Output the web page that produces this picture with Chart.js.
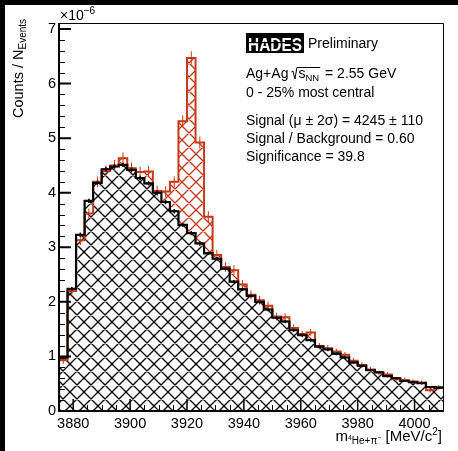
<!DOCTYPE html>
<html>
<head>
<meta charset="utf-8">
<script src="https://cdn.jsdelivr.net/npm/chart.js@4.4.1/dist/chart.umd.min.js"></script>
<style>
  html, body { margin: 0; padding: 0; background: #fff; overflow: hidden; }
</style>
</head>
<body>
<canvas id="chart" width="458" height="451"></canvas>
<script>
// histogram: 45 bins of 3 MeV starting at 3875
const binLow = 3875;
const binWidth = 3;
// background (black), x 1e-6
const background = [0.98, 2.24, 3.23, 3.85, 4.18, 4.43, 4.48, 4.51, 4.42, 4.27,
  4.17, 4.00, 3.83, 3.66, 3.41, 3.26, 3.07, 2.89, 2.79, 2.61,
  2.37, 2.23, 2.11, 2.00, 1.86, 1.71, 1.64, 1.48, 1.39, 1.30,
  1.18, 1.13, 1.05, 0.98, 0.89, 0.83, 0.75, 0.71, 0.64, 0.60,
  0.55, 0.53, 0.51, 0.44, 0.43];
const backgroundErr = [0.03, 0.03, 0.04, 0.04, 0.04, 0.04, 0.04, 0.04, 0.04, 0.04,
  0.04, 0.04, 0.04, 0.04, 0.04, 0.04, 0.04, 0.03, 0.03, 0.03,
  0.03, 0.03, 0.03, 0.03, 0.03, 0.03, 0.03, 0.03, 0.03, 0.03,
  0.03, 0.03, 0.03, 0.03, 0.02, 0.02, 0.02, 0.02, 0.02, 0.02,
  0.02, 0.02, 0.02, 0.02, 0.02];
// signal + background (red)
const total = [0.93, 2.20, 3.13, 3.62, 4.20, 4.40, 4.50, 4.63, 4.45, 4.38,
  4.39, 4.03, 4.02, 4.20, 5.31, 6.47, 4.92, 3.56, 2.86, 2.64,
  2.58, 2.32, 2.13, 2.03, 1.93, 1.73, 1.72, 1.52, 1.41, 1.44,
  1.19, 1.15, 1.09, 1.03, 0.92, 0.84, 0.76, 0.70, 0.67, 0.58,
  0.57, 0.54, 0.52, 0.38, 0.43];
const totalErr = [0.07, 0.08, 0.09, 0.09, 0.10, 0.10, 0.10, 0.11, 0.10, 0.10,
  0.10, 0.10, 0.10, 0.10, 0.11, 0.12, 0.11, 0.10, 0.09, 0.09,
  0.09, 0.08, 0.08, 0.08, 0.08, 0.07, 0.07, 0.07, 0.06, 0.06,
  0.06, 0.06, 0.05, 0.05, 0.05, 0.05, 0.05, 0.04, 0.04, 0.04,
  0.04, 0.04, 0.04, 0.04, 0.04];
const xTicks = [3880, 3900, 3920, 3940, 3960, 3980, 4000];
const yTicks = [0, 1, 2, 3, 4, 5, 6, 7];

const RED = 'rgb(196,58,26)';
const FONT = '"Liberation Sans", Arial, Helvetica, sans-serif';

// step outline points from bin contents
function stepPoints(vals) {
  const pts = [{ x: binLow, y: 0 }];
  vals.forEach((v, i) => pts.push({ x: binLow + i * binWidth, y: v }));
  pts.push({ x: binLow + vals.length * binWidth, y: vals[vals.length - 1] });
  return pts;
}

// ROOT-like cross hatch
function hatch(color, bg) {
  const s = 14;
  const c = document.createElement('canvas');
  c.width = s; c.height = s;
  const g = c.getContext('2d');
  if (bg) { g.fillStyle = bg; g.fillRect(0, 0, s, s); }
  g.strokeStyle = color;
  g.lineWidth = 1.35;
  g.beginPath();
  for (const o of [-s, 0, s]) {
    g.moveTo(o, 0); g.lineTo(o + s, s);
    g.moveTo(o + s, 0); g.lineTo(o, s);
  }
  g.stroke();
  return g.createPattern(c, 'repeat');
}

function drawErrors(chart, vals, errs, color, lw) {
  const ctx = chart.ctx, xs = chart.scales.x, ys = chart.scales.y;
  ctx.save();
  ctx.strokeStyle = color;
  ctx.lineWidth = lw;
  ctx.beginPath();
  vals.forEach((v, i) => {
    const c = binLow + (i + 0.5) * binWidth;
    const px = xs.getPixelForValue(c);
    ctx.moveTo(px, ys.getPixelForValue(v - errs[i]));
    ctx.lineTo(px, ys.getPixelForValue(v + errs[i]));
    ctx.moveTo(xs.getPixelForValue(c - 1.2), ys.getPixelForValue(v));
    ctx.lineTo(xs.getPixelForValue(c + 1.2), ys.getPixelForValue(v));
  });
  ctx.stroke();
  ctx.restore();
}

function font(size, bold) { return (bold ? 'bold ' : '') + size + 'px ' + FONT; }

const decor = {
  id: 'decor',
  afterDatasetsDraw(chart) {
    const a = chart.chartArea;
    const ctx = chart.ctx;
    ctx.save();
    ctx.beginPath();
    ctx.rect(a.left, a.top, a.right - a.left, a.bottom - a.top);
    ctx.clip();
    drawErrors(chart, total, totalErr, RED, 1);
    drawErrors(chart, background, backgroundErr, '#000', 1.5);
    ctx.restore();
  },
  afterDraw(chart) {
    const ctx = chart.ctx, a = chart.chartArea;
    const xs = chart.scales.x, ys = chart.scales.y;
    ctx.save();
    // outer black border (top/left)
    ctx.fillStyle = '#000';
    ctx.fillRect(0, 0, 458, 5);
    ctx.fillRect(0, 0, 5, 451);

    // frame
    ctx.strokeStyle = '#000';
    ctx.lineWidth = 1;
    ctx.beginPath();
    ctx.moveTo(a.left, a.top + 0.5); ctx.lineTo(a.right + 0.5, a.top + 0.5);
    ctx.lineTo(a.right + 0.5, a.bottom);
    ctx.stroke();
    ctx.lineWidth = 2;
    ctx.beginPath();
    ctx.moveTo(a.left, a.top); ctx.lineTo(a.left, a.bottom);
    ctx.lineTo(a.right + 1, a.bottom);
    ctx.stroke();

    // y ticks (inside)
    ctx.beginPath();
    ctx.lineWidth = 2;
    yTicks.forEach(v => {
      const py = ys.getPixelForValue(v);
      ctx.moveTo(a.left, py); ctx.lineTo(a.left + 12, py);
    });
    ctx.stroke();
    ctx.beginPath();
    ctx.lineWidth = 1;
    for (let v = 0.2; v < ys.max; v += 0.2) {
      if (Math.abs(v - Math.round(v)) < 1e-6) continue;
      const py = Math.round(ys.getPixelForValue(v)) + 0.5;
      ctx.moveTo(a.left, py); ctx.lineTo(a.left + 6, py);
    }
    ctx.stroke();
    // x ticks (inside)
    ctx.beginPath();
    ctx.lineWidth = 1.5;
    xTicks.forEach(v => {
      const px = xs.getPixelForValue(v);
      ctx.moveTo(px, a.bottom); ctx.lineTo(px, a.bottom - 12);
    });
    ctx.stroke();
    ctx.beginPath();
    ctx.lineWidth = 1;
    for (let v = 3880; v <= 4010; v += 5) {
      if (v % 20 === 0) continue;
      const px = Math.round(xs.getPixelForValue(v)) + 0.5;
      ctx.moveTo(px, a.bottom); ctx.lineTo(px, a.bottom - 6);
    }
    ctx.stroke();

    ctx.fillStyle = '#000';
    ctx.textBaseline = 'alphabetic';
    ctx.textAlign = 'left';

    // x10^-6
    ctx.font = font(14);
    ctx.fillText('\u00d710', 60, 20);
    const w10 = ctx.measureText('\u00d710').width;
    ctx.font = font(10);
    ctx.fillText('\u22126', 60 + w10, 14);

    // y title
    ctx.save();
    ctx.translate(23, 118);
    ctx.rotate(-Math.PI / 2);
    ctx.font = font(14.5);
    ctx.fillText('Counts / N', 0, 0);
    const wc = ctx.measureText('Counts / N').width;
    ctx.font = font(10);
    ctx.fillText('Events', wc, 3);
    ctx.restore();

    // x title: m_{4He+pi-} [MeV/c^2]
    {
      const parts = [
        ['m', 15, 0], ['4', 7, -1], ['He+\u03c0', 10, 3], ['\u2212', 7, -1], [' [MeV/c', 15, 0], ['2', 10, -6], [']', 15, 0]
      ];
      let wt = 0;
      parts.forEach(p => { ctx.font = font(p[1]); wt += ctx.measureText(p[0]).width; });
      let x = 442 - wt;
      const by = 441;
      parts.forEach(p => {
        ctx.font = font(p[1]);
        ctx.fillText(p[0], x, by + p[2]);
        x += ctx.measureText(p[0]).width;
      });
    }

    // HADES logo
    ctx.fillStyle = '#000';
    ctx.fillRect(246, 33, 58, 20);
    ctx.save();
    ctx.fillStyle = '#fff';
    ctx.font = font(19, true);
    const wh = ctx.measureText('HADES').width;
    ctx.translate(248, 50.5);
    ctx.scale(54 / wh, 1);
    ctx.fillText('HADES', 0, 0);
    ctx.restore();
    ctx.fillStyle = '#000';
    ctx.fillRect(247, 42, 56, 1.2);

    ctx.font = font(14);
    ctx.fillText('Preliminary', 308, 48);

    // Ag+Ag sqrt(s_NN) = 2.55 GeV
    ctx.fillText('Ag+Ag', 246, 78);
    let x = 246 + ctx.measureText('Ag+Ag').width + 3;
    ctx.font = font(14);
    const ws = ctx.measureText('s').width;
    ctx.font = font(9.5);
    const wn = ctx.measureText('NN').width;
    ctx.strokeStyle = '#000';
    ctx.lineWidth = 1;
    ctx.beginPath();
    ctx.moveTo(x, 72);
    ctx.lineTo(x + 1.5, 71);
    ctx.lineTo(x + 3.5, 79);
    ctx.lineTo(x + 5.5, 67.5);
    ctx.lineTo(x + 7 + ws + wn + 1, 67.5);
    ctx.stroke();
    ctx.font = font(14);
    ctx.fillText('s', x + 7, 78);
    ctx.font = font(9.5);
    ctx.fillText('NN', x + 7 + ws, 81);
    x += 7 + ws + wn + 2;
    ctx.font = font(14);
    ctx.fillText(' = 2.55 GeV', x, 78);

    ctx.fillText('0 - 25% most central', 246, 97);
    ctx.fillText('Signal (\u03bc \u00b1 2\u03c3) = 4245 \u00b1 110', 246, 125);
    ctx.fillText('Signal / Background = 0.60', 246, 143);
    ctx.fillText('Significance = 39.8', 246, 161);
    ctx.restore();
  }
};

new Chart(document.getElementById('chart'), {
  type: 'line',
  data: {
    datasets: [
      { data: stepPoints(total), fill: 'origin', backgroundColor: hatch(RED), borderColor: 'rgba(0,0,0,0)', borderWidth: 1, order: 4 },
      { data: stepPoints(background), fill: 'origin', backgroundColor: hatch('#000', '#fff'), borderColor: 'rgba(0,0,0,0)', borderWidth: 1, order: 3 },
      { data: stepPoints(total), fill: false, borderColor: RED, borderWidth: 2, order: 2 },
      { data: stepPoints(background), fill: false, borderColor: '#000', borderWidth: 2.2, order: 1 }
    ]
  },
  options: {
    animation: false,
    responsive: false,
    layout: { padding: { top: 23, right: 15, left: 0, bottom: 0 } },
    elements: {
      line: { stepped: true, tension: 0, borderJoinStyle: 'miter', borderCapStyle: 'butt' },
      point: { radius: 0, hoverRadius: 0 }
    },
    plugins: { legend: { display: false }, tooltip: { enabled: false } },
    scales: {
      x: {
        type: 'linear', min: 3875, max: 4010,
        afterBuildTicks: s => { s.ticks = xTicks.map(v => ({ value: v })); },
        afterFit: s => { s.height = 40; },
        grid: { display: false, drawTicks: false }, border: { display: false },
        ticks: { color: '#000', font: { family: FONT, size: 14.5 }, padding: 4, maxRotation: 0, autoSkip: false, callback: v => String(v) }
      },
      y: {
        type: 'linear', min: 0, max: 7.11,
        afterBuildTicks: s => { s.ticks = yTicks.map(v => ({ value: v })); },
        afterFit: s => { s.width = 59; },
        grid: { display: false, drawTicks: false }, border: { display: false },
        ticks: { color: '#000', font: { family: FONT, size: 14.5 }, padding: 3, autoSkip: false, callback: v => String(v) }
      }
    }
  },
  plugins: [decor]
});
</script>
</body>
</html>
